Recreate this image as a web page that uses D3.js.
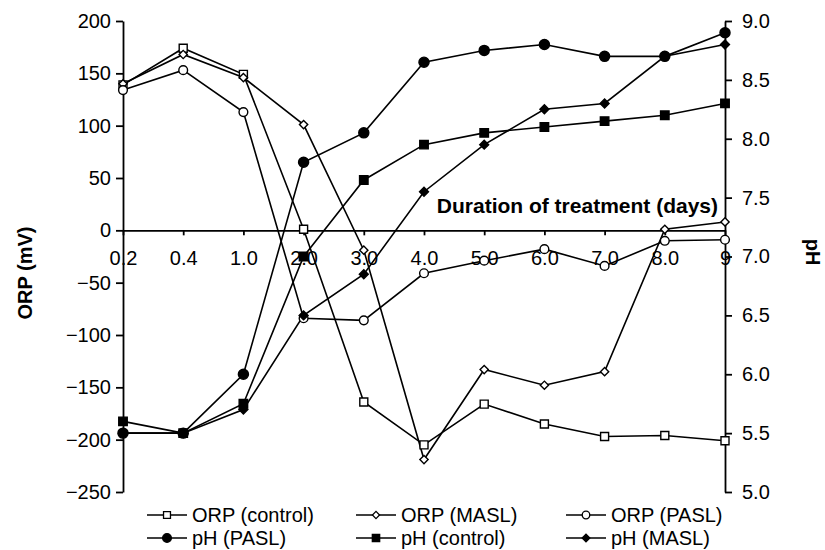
<!DOCTYPE html>
<html>
<head>
<meta charset="utf-8">
<script src="https://cdn.jsdelivr.net/npm/d3@7"></script>
<style>
  body { margin: 0; background: #fff; }
  text { font-family: "Liberation Sans", Arial, sans-serif; fill: #000; }
</style>
</head>
<body>
<div class="chart-wrapper"></div>
<script>
const days = ["0.2", "0.4", "1.0", "2.0", "3.0", "4.0", "5.0", "6.0", "7.0", "8.0", "9"]
const orpControl = [139, 174, 149, 1, -164, -205, -166, -185, -197, -196, -201]
const orpMASL = [140, 168, 146, 101, -19, -219, -133, -148, -135, 1, 8]
const orpPASL = [134, 153, 113, -84, -86, -41, -29, -18, -34, -10, -9]
const phPASL = [5.5, 5.5, 6.0, 7.8, 8.05, 8.65, 8.75, 8.8, 8.7, 8.7, 8.9]
const phControl = [5.6, 5.5, 5.75, 7.0, 7.65, 7.95, 8.05, 8.1, 8.15, 8.2, 8.3]
const phMASL = [5.5, 5.5, 5.7, 6.5, 6.85, 7.55, 7.95, 8.25, 8.3, 8.7, 8.8]
const orpTicks = [-250, -200, -150, -100, -50, 0, 50, 100, 150, 200]
const phTicks = [5.0, 5.5, 6.0, 6.5, 7.0, 7.5, 8.0, 8.5, 9.0]

const width = 825, height = 550
const plotLeft = 123, plotRight = 725, plotTop = 21, plotBottom = 492

const svg = d3.select('.chart-wrapper')
  .append('svg')
  .attr('width', width)
  .attr('height', height)

const x = d3.scalePoint().domain(days).range([plotLeft, plotRight])
const yOrp = d3.scaleLinear().domain([-250, 200]).range([plotBottom, plotTop])
const yPh = d3.scaleLinear().domain([5, 9]).range([plotBottom, plotTop])

// axes
const leftAxis = svg.append('g')
  .attr('transform', 'translate(' + plotLeft + ',0)')
  .call(d3.axisLeft(yOrp).tickValues(orpTicks).tickSize(7).tickSizeOuter(0).tickPadding(5))
const rightAxis = svg.append('g')
  .attr('transform', 'translate(' + plotRight + ',0)')
  .call(d3.axisRight(yPh).tickValues(phTicks).tickSize(7).tickSizeOuter(0).tickPadding(10)
    .tickFormat(d3.format('.1f')))
const xAxis = svg.append('g')
  .attr('transform', 'translate(0,' + yOrp(0) + ')')
  .call(d3.axisBottom(x).tickSize(5).tickSizeOuter(0).tickPadding(15))

;[leftAxis, rightAxis, xAxis].forEach(g => {
  g.selectAll('path, line').attr('stroke', '#000').attr('stroke-width', 1.8)
  g.selectAll('text').style('font-size', '20px').attr('font-family', null)
})

// axis titles
svg.append('text')
  .attr('transform', 'translate(32,273) rotate(-90)')
  .attr('text-anchor', 'middle')
  .style('font-size', '20px').style('font-weight', 'bold')
  .text('ORP (mV)')
svg.append('text')
  .attr('transform', 'translate(806,252) rotate(90)')
  .attr('text-anchor', 'middle')
  .style('font-size', '20px').style('font-weight', 'bold')
  .text('pH')
svg.append('text')
  .attr('x', 718).attr('y', 213)
  .attr('text-anchor', 'end')
  .style('font-size', '21px').style('font-weight', 'bold')
  .text('Duration of treatment (days)')

// series (diamonds are squares turned 45 degrees)
const symbols = {
  square: d3.symbolSquare,
  circle: d3.symbolCircle,
  diamond: d3.symbolSquare
}
const series = [
  { name: 'ORP (control)', values: orpControl, y: yOrp, shape: 'square', fill: '#fff', size: 64 },
  { name: 'ORP (MASL)', values: orpMASL, y: yOrp, shape: 'diamond', fill: '#fff', size: 34 },
  { name: 'ORP (PASL)', values: orpPASL, y: yOrp, shape: 'circle', fill: '#fff', size: 60 },
  { name: 'pH (PASL)', values: phPASL, y: yPh, shape: 'circle', fill: '#000', size: 80 },
  { name: 'pH (control)', values: phControl, y: yPh, shape: 'square', fill: '#000', size: 72 },
  { name: 'pH (MASL)', values: phMASL, y: yPh, shape: 'diamond', fill: '#000', size: 40 }
]
const turn = s => s.shape === 'diamond' ? ' rotate(45)' : ''

series.forEach(s => {
  const line = d3.line()
    .x((d, i) => x(days[i]))
    .y(d => s.y(d))
  svg.append('path')
    .datum(s.values)
    .attr('d', line)
    .attr('fill', 'none')
    .attr('stroke', '#000')
    .attr('stroke-width', 1.6)
})

series.forEach(s => {
  svg.append('g')
    .selectAll('path')
    .data(s.values)
    .enter()
    .append('path')
    .attr('transform', (d, i) => 'translate(' + x(days[i]) + ',' + s.y(d) + ')' + turn(s))
    .attr('d', d3.symbol().type(symbols[s.shape]).size(s.size))
    .attr('fill', s.fill)
    .attr('stroke', '#000')
    .attr('stroke-width', 1.4)
})

// legend
const legendCols = [147, 356, 566]
const legendRows = [515, 538]
series.forEach((s, i) => {
  const lx = legendCols[i % 3], ly = legendRows[Math.floor(i / 3)]
  const g = svg.append('g').attr('transform', 'translate(' + lx + ',' + ly + ')')
  g.append('line')
    .attr('x1', 0).attr('x2', 40)
    .attr('stroke', '#000').attr('stroke-width', 1.6)
  g.append('path')
    .attr('transform', 'translate(20,0)' + turn(s))
    .attr('d', d3.symbol().type(symbols[s.shape]).size(s.size * 0.75))
    .attr('fill', s.fill)
    .attr('stroke', '#000')
    .attr('stroke-width', 1.3)
  g.append('text')
    .attr('x', 45).attr('dy', '0.35em')
    .style('font-size', '20px')
    .text(s.name)
})
</script>
</body>
</html>
